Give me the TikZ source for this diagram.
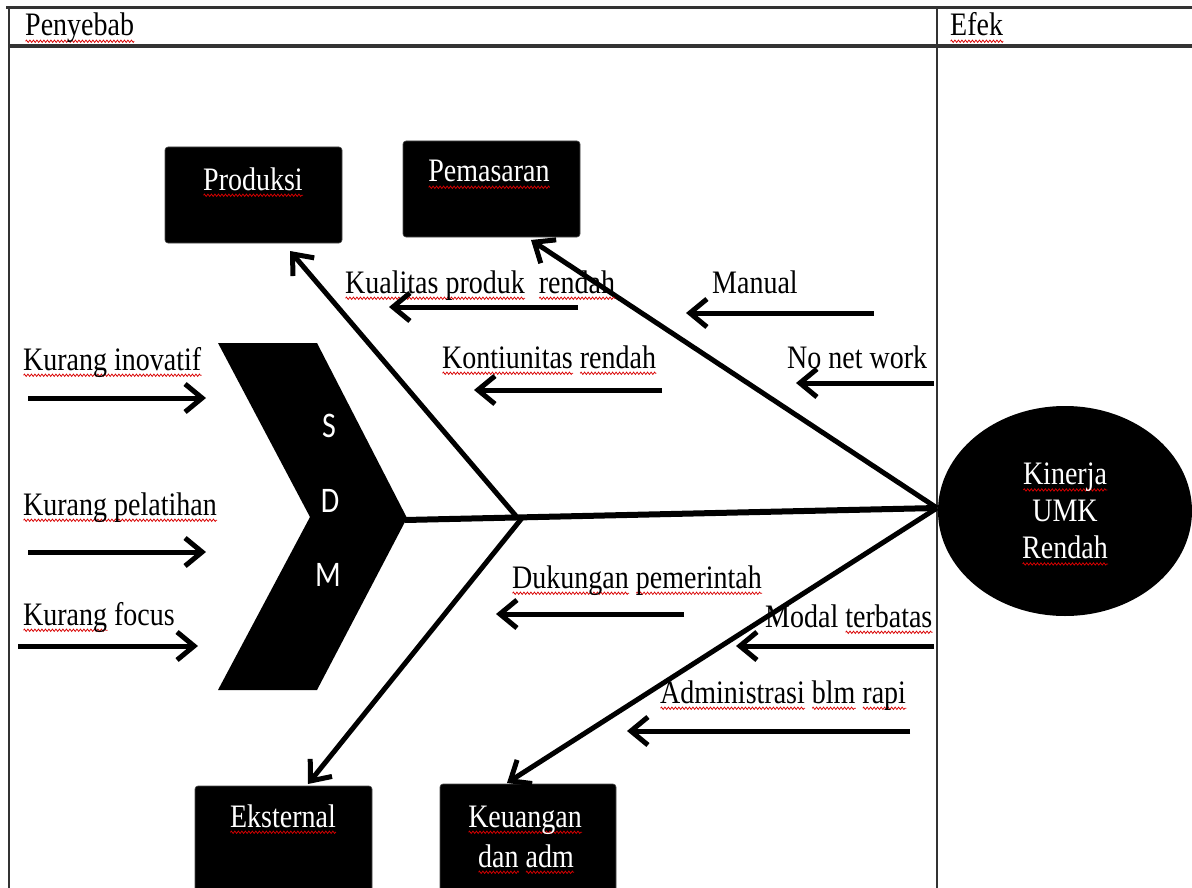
\documentclass[tikz,border=0pt]{standalone}
\usepackage{fontspec}
\setmainfont{Liberation Serif}
\newfontfamily\calib{Carlito}
\usetikzlibrary{arrows.meta,shapes.geometric,decorations.pathmorphing}
\newlength\sqw
\newcommand\sq[1]{\settowidth\sqw{#1}\rlap{\raisebox{-4.5pt}[0pt][0pt]{\tikz[x=1pt,y=1pt,baseline=0pt]\draw[red!85!black, line width=0.7pt, decorate, decoration={zigzag, segment length=3.5pt, amplitude=1pt}] (0,0) -- (\the\sqw,0);}}#1}
\newcommand\tf{\fontsize{28}{34}\selectfont}
\newcommand\T[1]{\scalebox{1}[1.17]{#1}}
\newcommand\sdmL[1]{\scalebox{1}[1.2]{#1}}
\tikzset{
  lbl/.style={inner sep=0pt, anchor=base west, font=\tf, text=black},
  clbl/.style={inner sep=0pt, anchor=base, font=\tf, text=white},
  catbox/.style={fill=black, draw=black!70, line width=0.6pt, rounded corners=3pt, inner sep=0pt},
  arr/.style={line width=5pt, -{Straight Barb[length=17pt,width=28pt,line width=5pt]}},
  tbl/.style={draw=black!80},
  sdm/.style={inner sep=0pt, text=white, font=\calib\fontsize{30}{36}\selectfont},
}
\begin{document}
\begin{tikzpicture}[x=1pt,y=-1pt]
\useasboundingbox (0,0) rectangle (1192,888);
\clip (0,0) rectangle (1192,888);
\fill[white] (0,0) rectangle (1192,888);

% table frame
\draw[tbl, line width=3pt] (6,8) -- (1192,8);
\draw[tbl, line width=4pt] (8,46) -- (1192,46);
\draw[tbl, line width=2pt] (9,7) -- (9,888);
\draw[tbl, line width=2pt] (937,7) -- (937,888);
\node[lbl] (hcause) at (25,36) {\T{\sq{Penyebab}}};
\node[lbl] (heffect) at (950,36) {\T{\sq{Efek}}};

% category boxes
\node[catbox, minimum width=177pt, minimum height=96pt] (prod) at (253.5,195) {};
\node[catbox, minimum width=177pt, minimum height=96pt] (pem) at (491.5,189) {};
\node[catbox, minimum width=177pt, minimum height=120pt] (eks) at (283.5,846) {};
\node[catbox, minimum width=176pt, minimum height=122pt] (keu) at (528,845) {};
\node[clbl] (prodT) at (253,190) {\T{\sq{Produksi}}};
\node[clbl] (pemT) at (489,182) {\T{\sq{Pemasaran}}};
\node[clbl] (eksT) at (283,827) {\T{\sq{Eksternal}}};
\node[clbl] (keuT) at (525,827) {\T{\sq{Keuangan}}};
\node[clbl] (keuT2) at (526,867) {\T{\sq{dan} \sq{adm}}};

% effect ellipse
\node[ellipse, fill=black, minimum width=254pt, minimum height=210pt, inner sep=0pt,
      text=white, align=center, font=\fontsize{28}{37}\selectfont] (eff) at (1065,511)
      {\T{\sq{Kinerja}}\\\T{UMK}\\\T{\sq{Rendah}}};

% SDM chevron
\fill[black] (218,343) -- (317,343) -- (407,518) -- (317,690) -- (218,690) -- (310,517) -- cycle;
\coordinate (chevtip) at (405,520);
\node[sdm] (sdmS) at (329,426) {\sdmL{S}};
\node[sdm] (sdmD) at (330,501) {\sdmL{D}};
\node[sdm] (sdmM) at (328,575) {\sdmL{M}};

% spine and bones
\coordinate (head) at (937,508);
\coordinate (j1) at (516,516);
\coordinate (j2) at (522,518);
\coordinate (prodTip) at (290,251);
\coordinate (pemTip) at (531,240);
\coordinate (eksTip) at (308,784);
\coordinate (keuTip) at (507,783);
\draw[line width=6pt] (chevtip) -- (head);
\draw[arr] (j1) -- (prodTip);
\draw[arr] (j2) -- (eksTip);
\draw[arr] (head) -- (pemTip);
\draw[arr] (head) -- (keuTip);

% SDM causes
\node[lbl] (c1) at (23,370) {\T{\sq{Kurang inovatif}}};
\node[lbl] (c2) at (23,515) {\T{\sq{Kurang pelatihan}}};
\node[lbl] (c3) at (23,625) {\T{\sq{Kurang} focus}};
\coordinate (c1s) at (28,398); \coordinate (c1e) at (206,398);
\coordinate (c2s) at (28,552); \coordinate (c2e) at (206,552);
\coordinate (c3s) at (18,646); \coordinate (c3e) at (198,646);
\draw[arr] (c1s) -- (c1e);
\draw[arr] (c2s) -- (c2e);
\draw[arr] (c3s) -- (c3e);

% Produksi causes
\node[lbl] (p1) at (345,293) {\T{\sq{Kualitas produk}\ \ \sq{rendah}}};
\node[lbl] (p2) at (442,368) {\T{\sq{Kontiunitas} \sq{rendah}}};
\coordinate (p1s) at (578,307); \coordinate (p1e) at (389,307);
\coordinate (p2s) at (662,390); \coordinate (p2e) at (474,390);
\draw[arr] (p1s) -- (p1e);
\draw[arr] (p2s) -- (p2e);

% Pemasaran causes
\node[lbl] (m1) at (712,293) {\T{Manual}};
\node[lbl] (m2) at (787,368) {\T{No net work}};
\coordinate (m1s) at (874,313); \coordinate (m1e) at (686,313);
\coordinate (m2s) at (934,383); \coordinate (m2e) at (796,383);
\draw[arr] (m1s) -- (m1e);
\draw[arr] (m2s) -- (m2e);

% Eksternal cause
\node[lbl] (e1) at (512,588) {\T{\sq{Dukungan} \sq{pemerintah}}};
\coordinate (e1s) at (684,614); \coordinate (e1e) at (496,614);
\draw[arr] (e1s) -- (e1e);

% Keuangan causes
\node[lbl] (k1) at (765,627) {\T{Modal \sq{terbatas}}};
\node[lbl] (k2) at (660,703) {\T{\sq{Administrasi} \sq{blm} \sq{rapi}}};
\coordinate (k1s) at (934,646); \coordinate (k1e) at (736,646);
\coordinate (k2s) at (910,731); \coordinate (k2e) at (627,731);
\draw[arr] (k1s) -- (k1e);
\draw[arr] (k2s) -- (k2e);
\end{tikzpicture}
\end{document}
